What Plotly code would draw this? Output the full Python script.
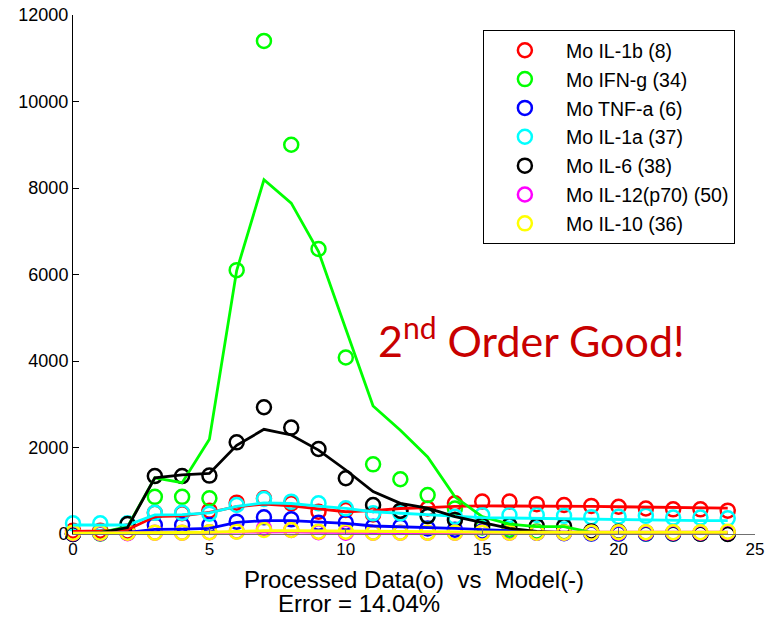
import plotly.graph_objects as go

# ---------------- data ----------------
hours = list(range(25))

names = ["Mo IL-1b (8)", "Mo IFN-g (34)", "Mo TNF-a (6)", "Mo IL-1a (37)",
         "Mo IL-6 (38)", "Mo IL-12(p70) (50)", "Mo IL-10 (36)"]

il1b_data  = [76, 76, 60, 490, 480, 540, 724, 825, 709, 515, 555, 450, 515, 590, 710, 750, 750, 690, 670, 650, 631, 590, 570, 570, 540]
il1b_model = [60, 70, 100, 400, 420, 500, 630, 690, 650, 590, 515, 540, 590, 610, 640, 650, 650, 650, 645, 640, 630, 620, 615, 610, 600]

ifng_data  = [0, 10, 30, 860, 860, 825, 6100, 11400, 9000, 6590, 4080, 1610, 1265, 900, 590, 150, 100, 60, 40, 20, 10, 5, 5, 5, 5]
ifng_model = [0, 30, 170, 1300, 1186, 2190, 6090, 8190, 7650, 6530, 4740, 2960, 2400, 1780, 860, 400, 230, 170, 170, 40, 10, 5, 5, 5, 5]

tnfa_data  = [0, 20, 30, 208, 208, 208, 285, 385, 340, 262, 262, 170, 170, 130, 100, 60, 40, 30, 20, 10, 10, 10, 10, 10, 10]
tnfa_model = [0, 10, 40, 108, 115, 131, 270, 308, 308, 285, 247, 185, 170, 150, 130, 100, 70, 50, 40, 30, 20, 20, 20, 20, 20]

il1a_data  = [247, 247, 247, 490, 490, 470, 670, 810, 747, 709, 593, 478, 478, 415, 400, 440, 440, 440, 420, 390, 400, 420, 380, 380, 362]
il1a_model = [208, 208, 208, 440, 450, 490, 640, 720, 705, 645, 590, 515, 480, 440, 420, 380, 370, 360, 350, 340, 330, 320, 315, 310, 308]

il6_data   = [0, 30, 230, 1340, 1340, 1350, 2120, 2930, 2460, 1965, 1290, 670, 540, 415, 325, 200, 200, 185, 180, 60, 50, 30, 20, 10, 0]
il6_model  = [0, 30, 150, 1300, 1365, 1400, 2050, 2420, 2290, 1940, 1480, 980, 710, 600, 400, 260, 130, 60, 30, 20, 10, 10, 10, 10, 10]

il12_data  = [20, 20, 20, 30, 30, 40, 60, 130, 92, 40, 30, 30, 30, 30, 30, 30, 30, 30, 30, 30, 30, 30, 30, 30, 40]
il12_model = [20, 20, 20, 25, 30, 35, 45, 55, 50, 40, 35, 35, 35, 35, 35, 40, 40, 40, 40, 40, 40, 40, 40, 40, 40]

il10_data  = [30, 30, 30, 30, 30, 40, 54, 92, 92, 54, 54, 30, 30, 30, 30, 30, 30, 30, 30, 30, 40, 40, 40, 40, 54]
il10_model = [20, 20, 25, 30, 35, 40, 60, 75, 75, 70, 60, 50, 45, 40, 40, 40, 40, 40, 40, 40, 40, 40, 40, 40, 40]

data_series  = [il1b_data, ifng_data, tnfa_data, il1a_data, il6_data, il12_data, il10_data]
model_series = [il1b_model, ifng_model, tnfa_model, il1a_model, il6_model, il12_model, il10_model]
colors = ["#ff0000", "#00ff00", "#0000ff", "#00ffff", "#000000", "#ff00ff", "#ffff00"]

x_ticks = [0, 5, 10, 15, 20, 25]
y_ticks = [0, 2000, 4000, 6000, 8000, 10000, 12000]

# ---------------- figure ----------------
fig = go.Figure()

for i, (name, ys, c) in enumerate(zip(names, data_series, colors)):
    fig.add_trace(go.Scatter(
        x=hours, y=ys, mode="markers", name=name, legendgroup=f"g{i}",
        marker=dict(symbol="circle-open", size=14, color=c, line=dict(width=2.5, color=c)),
        cliponaxis=False,
    ))

for name, ys, c in zip(names, model_series, colors):
    fig.add_trace(go.Scatter(
        x=hours, y=ys, mode="lines", name=name + " model", showlegend=False,
        line=dict(color=c, width=2.8), cliponaxis=False,
    ))

xtick_font = dict(family="Liberation Sans, Arial, sans-serif", size=17, color="black")
ytick_font = dict(family="Liberation Sans, Arial, sans-serif", size=18, color="black")

fig.update_layout(
    width=765, height=621,
    margin=dict(l=73, r=10, t=15, b=87, autoexpand=False),
    paper_bgcolor="white", plot_bgcolor="white",
    showlegend=True,
    legend=dict(
        x=0.601, y=0.971, xanchor="left", yanchor="top",
        bgcolor="white", bordercolor="black", borderwidth=1,
        font=dict(family="Liberation Sans, Arial, sans-serif", size=19.5, color="black"),
        itemwidth=72, tracegroupgap=0.5,
    ),
    xaxis=dict(
        range=[0, 25], tickvals=x_ticks, ticktext=[str(v) for v in x_ticks],
        showgrid=False, zeroline=False, showline=True, linecolor="#707070", linewidth=1,
        ticks="inside", ticklen=6, tickcolor="#707070", tickfont=xtick_font,
        mirror=False, automargin=False,
    ),
    yaxis=dict(
        range=[0, 12000], tickvals=y_ticks, ticktext=[str(v) for v in y_ticks],
        showgrid=False, zeroline=False, showline=True, linecolor="black", linewidth=1,
        ticks="inside", ticklen=6, tickcolor="black", tickfont=ytick_font,
        mirror=False, automargin=False,
    ),
)

label_font = dict(family="Liberation Sans, Arial, sans-serif", size=24, color="black")
fig.add_annotation(
    text="Processed Data(o)\u00a0\u00a0vs\u00a0\u00a0Model(-)",
    xref="paper", yref="paper", x=0.5, y=-0.088, xanchor="center", yanchor="middle",
    showarrow=False, font=label_font,
)
fig.add_annotation(
    text="Error = 14.04%",
    xref="paper", yref="paper", x=0.419, y=-0.133, xanchor="center", yanchor="middle",
    showarrow=False, font=label_font,
)
fig.add_annotation(
    text="2<sup>nd</sup> Order Good!",
    xref="x", yref="y", x=11.12, y=4550, xanchor="left", yanchor="middle",
    showarrow=False, font=dict(family="Lato, Calibri, sans-serif", size=43, color="#c80000"),
)

fig.write_html("out.html")
